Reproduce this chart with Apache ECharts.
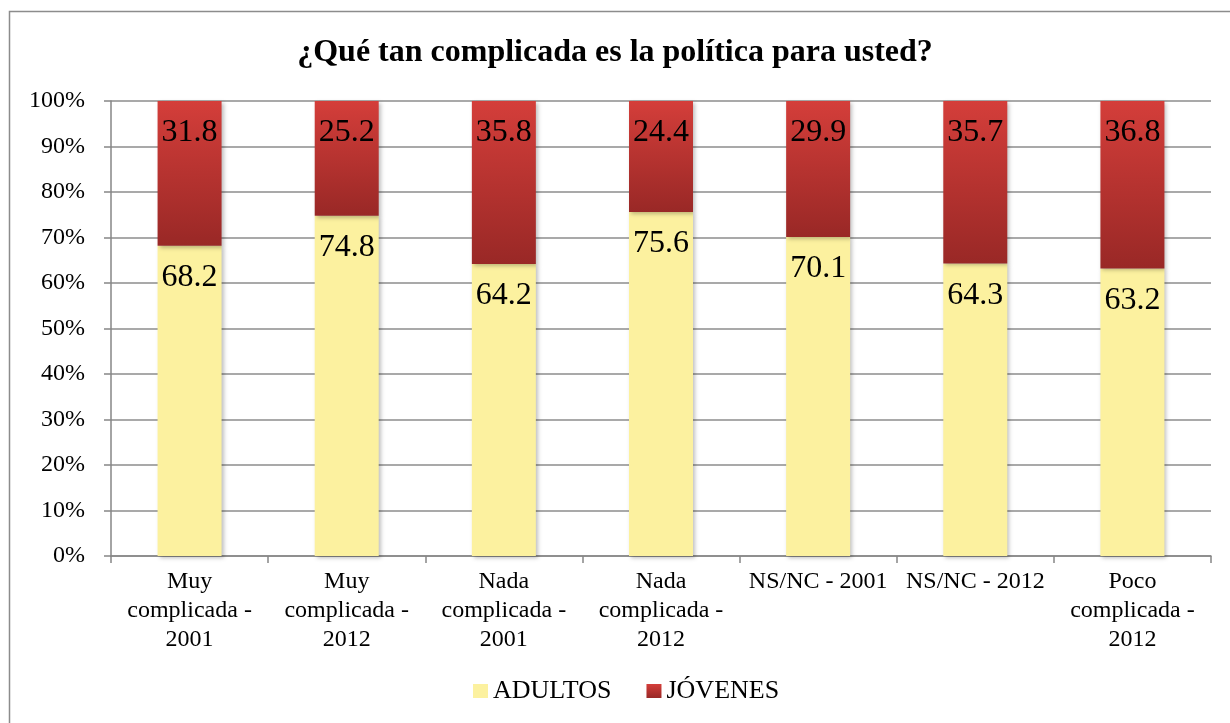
<!DOCTYPE html>
<html><head><meta charset="utf-8">
<script src="https://cdn.jsdelivr.net/npm/echarts@6/dist/echarts.min.js"></script>
<style>html,body{margin:0;padding:0;background:#fff}#c{width:1230px;height:723px}</style>
</head><body><div id="c"></div>
<script>
const categories = ["Muy\ncomplicada -\n2001","Muy\ncomplicada -\n2012","Nada\ncomplicada -\n2001","Nada\ncomplicada -\n2012","NS/NC - 2001","NS/NC - 2012","Poco\ncomplicada -\n2012"];
const adultos = [68.2,74.8,64.2,75.6,70.1,64.3,63.2];
const jovenes = [31.8,25.2,35.8,24.4,29.9,35.7,36.8];
const yTicks = [0,10,20,30,40,50,60,70,80,90,100];

const font = '"Liberation Serif", "Times New Roman", serif';
const chart = echarts.init(document.getElementById('c'));
const shadow = {shadowColor:'rgba(0,0,0,0.25)', shadowBlur:4, shadowOffsetX:2, shadowOffsetY:2};
chart.setOption({
  animation:false,
  textStyle:{fontFamily:font},
  graphic:[{type:'rect', shape:{x:9.5,y:11.5,width:1240,height:740}, style:{fill:'none',stroke:'#8c8c8c',lineWidth:1.5}, silent:true}],
  title:{text:'¿Qué tan complicada es la política para usted?', left:'center', top:32,
    textStyle:{fontFamily:font, fontWeight:'bold', fontSize:32, color:'#000'}},
  legend:{bottom:14, left:468, itemWidth:15, itemHeight:14, itemGap:35, icon:'rect',
    textStyle:{fontFamily:font, fontSize:26, color:'#000'}, data:['ADULTOS','JÓVENES']},
  grid:{left:111, right:19, top:101, bottom:167, containLabel:false},
  xAxis:{type:'category', data:categories,
    axisLine:{lineStyle:{color:'#868686', width:1.5}},
    axisTick:{show:true, length:7, alignWithLabel:false, lineStyle:{color:'#868686', width:1.5}},
    axisLabel:{fontFamily:font, fontSize:24, color:'#000', lineHeight:29, margin:11, interval:0}},
  yAxis:{type:'value', min:0, max:100, interval:10,
    axisLine:{show:true, lineStyle:{color:'#868686', width:1.5}},
    axisTick:{show:true, length:7, lineStyle:{color:'#868686', width:1.5}},
    splitLine:{lineStyle:{color:'#8c8c8c', width:1.5}},
    axisLabel:{fontFamily:font, fontSize:24, color:'#000', margin:26,
      formatter:v=> yTicks.includes(v) ? v+'%' : ''}},
  series:[
    {name:'ADULTOS', type:'bar', stack:'t', data:adultos, barWidth:64,
      itemStyle:Object.assign({color:'#FCF19F'}, shadow),
      label:{show:true, position:'insideTop', distance:16, fontFamily:font, fontSize:32, color:'#000', formatter:p=>p.value.toFixed(1)}},
    {name:'JÓVENES', type:'bar', stack:'t', data:jovenes, barWidth:64,
      itemStyle:Object.assign({color:new echarts.graphic.LinearGradient(0,0,0,1,[{offset:0,color:'#D43E3A'},{offset:1,color:'#992826'}])}, shadow),
      label:{show:true, position:'insideTop', distance:16, fontFamily:font, fontSize:32, color:'#000', formatter:p=>p.value.toFixed(1)}}
  ]
});
</script></body></html>
